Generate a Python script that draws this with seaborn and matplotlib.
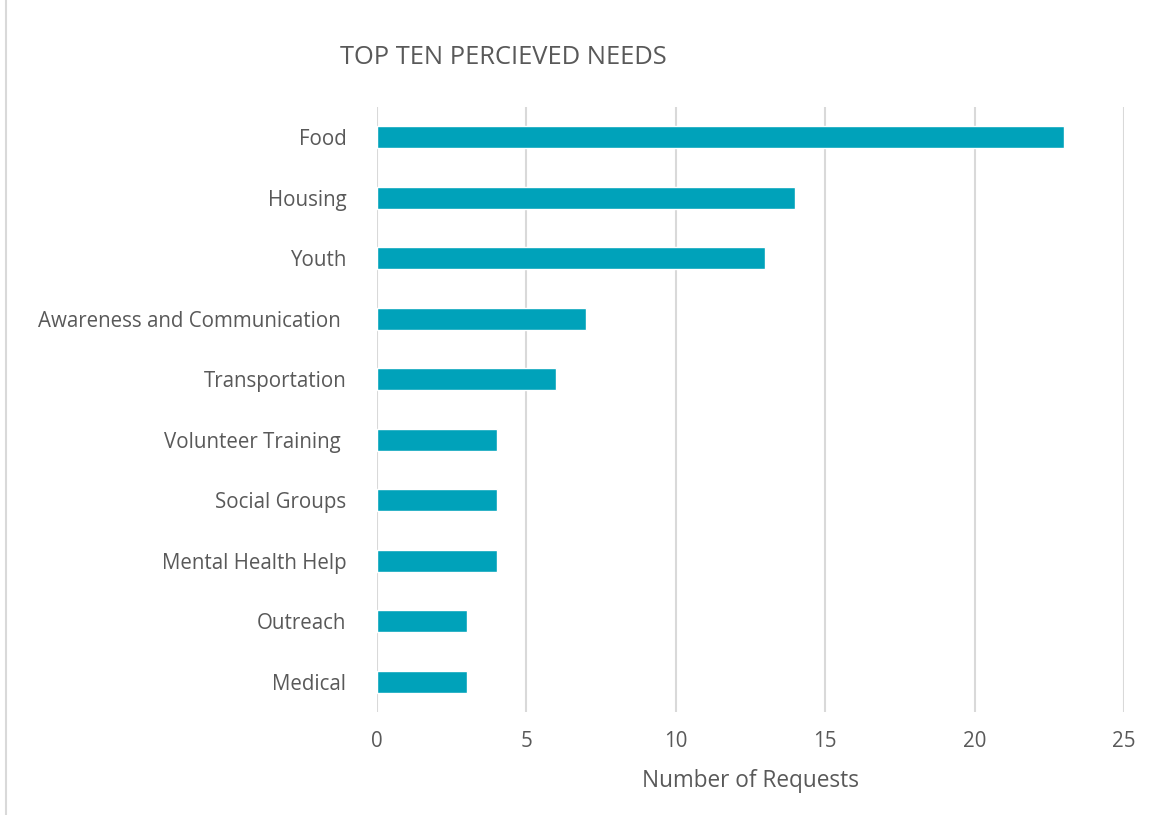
import matplotlib
matplotlib.use("Agg")
import matplotlib.pyplot as plt
from matplotlib.lines import Line2D
import seaborn as sns
import pandas as pd

needs = ["Food", "Housing", "Youth", "Awareness and Communication ", "Transportation",
         "Volunteer Training ", "Social Groups", "Mental Health Help", "Outreach", "Medical"]
requests = [23, 14, 13, 7, 6, 4, 4, 4, 3, 3]
x_ticks = [0, 5, 10, 15, 20, 25]

df = pd.DataFrame({"need": needs, "requests": requests})

sns.set_style("white")
plt.rcParams["font.family"] = ["Open Sans", "DejaVu Sans"]

text_color = "#595959"
grid_color = "#d9d9d9"
bar_color = "#00a2ba"

W, H = 1156, 815
fig = plt.figure(figsize=(W / 100, H / 100), dpi=100)
ax = fig.add_axes([377 / W, 1 - 712 / H, (1124 - 377) / W, (712 - 107) / H])

sns.barplot(data=df, x="requests", y="need", orient="h", color=bar_color,
            width=0.36, saturation=1, ax=ax, zorder=3)

ax.set_xlim(0, 25)
ax.set_xticks(x_ticks)
ax.set_ylim(9.5, -0.5)
ax.xaxis.grid(True, color=grid_color, linewidth=1.5, zorder=0)
ax.yaxis.grid(False)
for s in ax.spines.values():
    s.set_visible(False)

ax.tick_params(axis="both", length=0, labelsize=14.8, colors=text_color)
ax.tick_params(axis="y", pad=22)
ax.tick_params(axis="x", pad=14)
ax.set_ylabel("")
ax.set_xlabel("Number of Requests", fontsize=16.3, color=text_color, labelpad=12)

fig.text(340 / W, 1 - 57 / H, "TOP TEN PERCIEVED NEEDS", fontsize=18.4,
         color=text_color, ha="left", va="center")

# thin frame line along the left edge of the chart area
fig.add_artist(Line2D([6 / W, 6 / W], [0, 1], transform=fig.transFigure,
                      color=grid_color, linewidth=1.5))

fig.savefig("out.png", dpi=100, facecolor="white")
